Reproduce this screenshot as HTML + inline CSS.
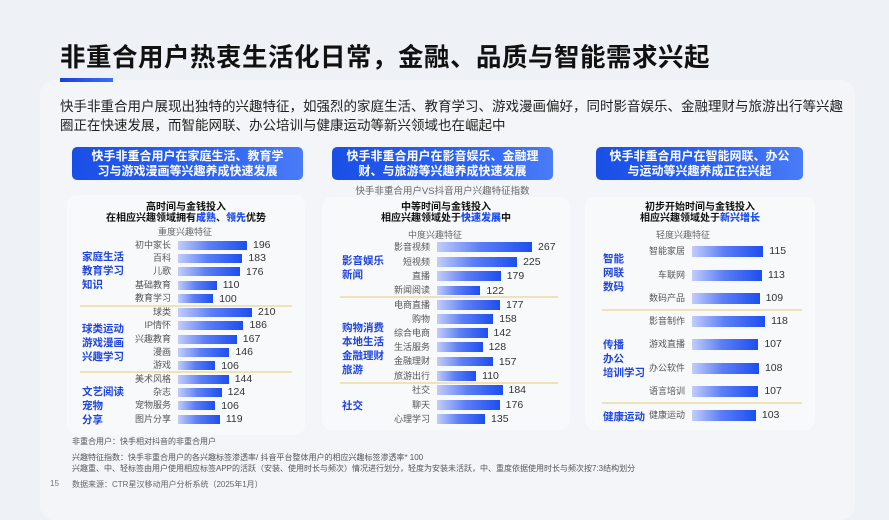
<!DOCTYPE html>
<html><head><meta charset="utf-8">
<style>
*{margin:0;padding:0;box-sizing:border-box}
body{width:889px;height:500px;overflow:hidden;background:#eef1f5;font-family:"Liberation Sans","Noto Sans CJK SC",sans-serif;position:relative;color:#222}
.a{position:absolute;white-space:nowrap}
.panel{position:absolute;left:40px;top:80px;width:815px;height:440px;background:#f3f5f8;border-radius:14px}
.hd{position:absolute;height:33px;border-radius:5px;background:linear-gradient(90deg,#1a4fe6,#2d63f5 60%,#4a7cf7);color:#fff;font-weight:bold;font-size:12px;line-height:15px;text-align:center;padding-top:2px}
.card{position:absolute;background:#f8f9fb;border-radius:10px}
.ct{position:absolute;font-weight:bold;font-size:10px;line-height:11px;text-align:center;color:#111}
.ct b{color:#1f4ef0}
.sub{position:absolute;font-size:9px;color:#666;text-align:center}
.lb{position:absolute;font-size:9px;color:#555;text-align:right;width:70px;line-height:11px}
.bar{position:absolute;height:10px;background:linear-gradient(90deg,#c2cdfb,#5d7ff5 45%,#1d4ef0)}
.v{position:absolute;font-size:10.5px;color:#333;line-height:11px}
.cat{position:absolute;font-size:10.5px;font-weight:bold;color:#1f45e0;line-height:14px}
.sep{position:absolute;height:1.5px;background:#f0e2b8}
.fn{position:absolute;font-size:8px;color:#555;white-space:nowrap}
</style></head><body>
<div class="panel"></div>
<div class="a" style="left:60px;top:37px;font-size:25.5px;font-weight:bold;color:#111;letter-spacing:0.5px">非重合用户热衷生活化日常，金融、品质与智能需求兴起</div>
<div class="a" style="left:60px;top:78px;width:53px;height:4px;background:linear-gradient(90deg,#1a3fe0,#3b6cf6)"></div>
<div class="a" style="left:60px;top:97px;font-size:13.5px;line-height:19px;color:#222">快手非重合用户展现出独特的兴趣特征，如强烈的家庭生活、教育学习、游戏漫画偏好，同时影音娱乐、金融理财与旅游出行等兴趣<br>圈正在快速发展，而智能网联、办公培训与健康运动等新兴领域也在崛起中</div>

<div class="hd" style="left:72px;top:147px;width:231px">快手非重合用户在家庭生活、教育学<br>习与游戏漫画等兴趣养成快速发展</div>
<div class="hd" style="left:332px;top:147px;width:221px">快手非重合用户在影音娱乐、金融理<br>财、与旅游等兴趣养成快速发展</div>
<div class="hd" style="left:596px;top:147px;width:207px">快手非重合用户在智能网联、办公<br>与运动等兴趣养成正在兴起</div>
<div class="sub" style="left:332px;top:183px;width:221px;font-size:9.5px">快手非重合用户VS抖音用户兴趣特征指数</div>

<div class="card" style="left:67px;top:195px;width:238px;height:240px"></div>
<div class="card" style="left:322px;top:197px;width:248px;height:233px"></div>
<div class="card" style="left:585px;top:197px;width:230px;height:233px"></div>

<div class="ct" style="left:67px;top:202px;width:238px">高时间与金钱投入<br>在相应兴趣领域拥有<b>成熟</b>、<b>领先</b>优势</div>
<div class="sub" style="left:140px;top:225px;width:90px">重度兴趣特征</div>
<div class="cat" style="left:82px;top:250px">家庭生活<br>教育学习<br>知识</div>
<div class="cat" style="left:82px;top:322px">球类运动<br>游戏漫画<br>兴趣学习</div>
<div class="cat" style="left:82px;top:385px">文艺阅读<br>宠物<br>分享</div>
<div class="sep" style="left:80px;top:305px;width:212px"></div>
<div class="sep" style="left:80px;top:371px;width:212px"></div>

<div class="ct" style="left:322px;top:202px;width:248px">中等时间与金钱投入<br>相应兴趣领域处于<b>快速发展</b>中</div>
<div class="sub" style="left:400px;top:228px;width:70px">中度兴趣特征</div>
<div class="cat" style="left:342px;top:254px">影音娱乐<br>新闻</div>
<div class="cat" style="left:342px;top:321px">购物消费<br>本地生活<br>金融理财<br>旅游</div>
<div class="cat" style="left:342px;top:399px">社交</div>
<div class="sep" style="left:340px;top:296px;width:218px"></div>
<div class="sep" style="left:340px;top:382px;width:218px"></div>

<div class="ct" style="left:585px;top:202px;width:230px">初步开始时间与金钱投入<br>相应兴趣领域处于<b>新兴增长</b></div>
<div class="sub" style="left:648px;top:228px;width:70px">轻度兴趣特征</div>
<div class="cat" style="left:603px;top:252px">智能<br>网联<br>数码</div>
<div class="cat" style="left:603px;top:338px">传播<br>办公<br>培训学习</div>
<div class="cat" style="left:603px;top:410px">健康运动</div>
<div class="sep" style="left:602px;top:309px;width:200px"></div>
<div class="sep" style="left:602px;top:402px;width:200px"></div>

<div class="fn" style="left:72px;top:436px">非重合用户：快手相对抖音的非重合用户</div>
<div class="fn" style="left:72px;top:452px">兴趣特征指数：快手非重合用户的各兴趣标签渗透率/ 抖音平台整体用户的相应兴趣标签渗透率* 100</div>
<div class="fn" style="left:72px;top:463px">兴趣重、中、轻标签由用户使用相应标签APP的活跃（安装、使用时长与频次）情况进行划分，轻度为安装未活跃，中、重度依据使用时长与频次按7:3结构划分</div>
<div class="fn" style="left:50px;top:479px;color:#777">15</div>
<div class="fn" style="left:72px;top:479px;color:#666">数据来源：CTR星汉移动用户分析系统（2025年1月）</div>

<script>
function col(rows,lx,bx,k,h){
  var s='';
  rows.forEach(function(r){
    var y=r[2],w=r[1]*k;
    s+='<div class="lb" style="left:'+(lx-70)+'px;top:'+(y-5.5)+'px">'+r[0]+'</div>';
    s+='<div class="bar" style="left:'+bx+'px;top:'+(y-h/2)+'px;width:'+w+'px;height:'+h+'px"></div>';
    s+='<div class="v" style="left:'+(bx+w+6)+'px;top:'+(y-5)+'px">'+r[1]+'</div>';
  });
  document.body.insertAdjacentHTML('beforeend',s);
}
col([["初中家长",196,245],["百科",183,258],["儿歌",176,271.5],["基础教育",110,285],["教育学习",100,298.5],
["球类",210,312],["IP情怀",186,325],["兴趣教育",167,339],["漫画",146,352],["游戏",106,365.5],
["美术风格",144,379],["杂志",124,392],["宠物服务",106,405.5],["图片分享",119,419]],171,178,0.352,9);
col([["影音视频",267,247],["短视频",225,262],["直播",179,276],["新闻阅读",122,290.5],
["电商直播",177,305],["购物",158,319],["综合电商",142,333],["生活服务",128,347],["金融理财",157,361.5],["旅游出行",110,376],
["社交",184,390],["聊天",176,405],["心理学习",135,419]],430,437,0.356,9.5);
col([["智能家居",115,251],["车联网",113,275],["数码产品",109,298],
["影音制作",118,321],["游戏直播",107,344],["办公软件",108,368],["语言培训",107,391],["健康运动",103,415]],685,692,0.62,11);
</script>
</body></html>
